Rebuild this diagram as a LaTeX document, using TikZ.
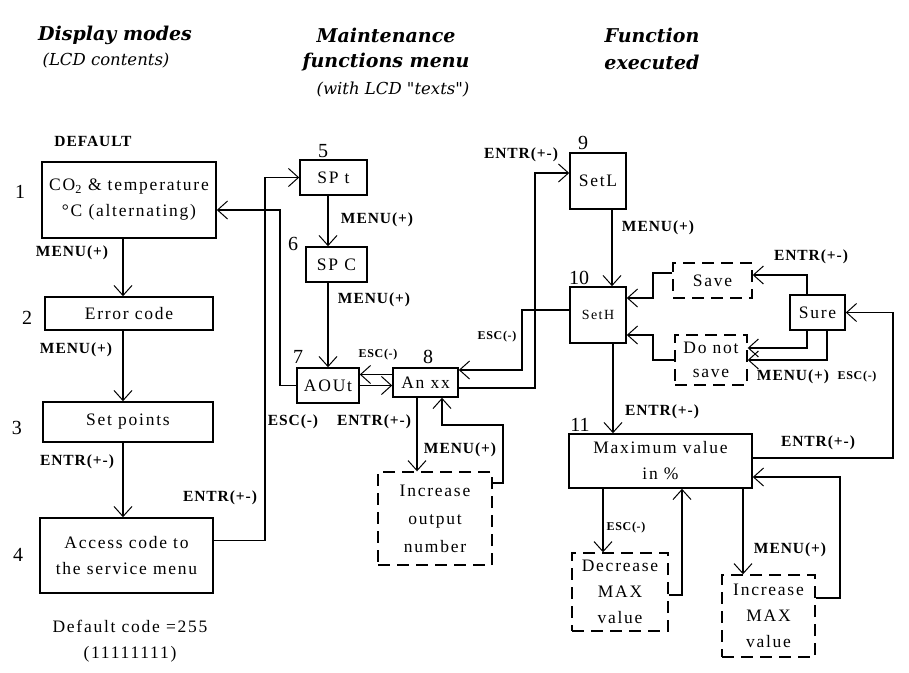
\documentclass[tikz,border=0pt]{standalone}
\usepackage{fontspec}
\setmainfont{Liberation Serif}
\newfontfamily\boxft[LetterSpace=10]{Liberation Serif}
\newfontfamily\lblft[LetterSpace=6]{Liberation Serif}
\newfontfamily\hdft{DejaVu Serif}
\usetikzlibrary{arrows.meta}
\tikzset{
 bx/.style={draw, line width=1.6pt, inner sep=0pt, align=center, font=\boxft\fontsize{17.5}{26}\selectfont},
 dbx/.style={bx, dash pattern=on 12pt off 7pt, line width=1.4pt},
 sz/.style 2 args={minimum width=#1pt, minimum height=#2pt},
 lbl/.style={font=\lblft\bfseries\fontsize{15.5}{18}\selectfont, inner sep=0pt},
 slbl/.style={font=\lblft\bfseries\fontsize{12}{14}\selectfont, inner sep=0pt},
 num/.style={font=\fontsize{20}{22}\selectfont, inner sep=0pt},
 hd/.style={font=\hdft\bfseries\itshape\fontsize{19}{22}\selectfont, inner sep=0pt},
 subhd/.style={font=\hdft\itshape\fontsize{16.5}{19}\selectfont, inner sep=0pt},
 txt/.style={font=\boxft\fontsize{17.5}{26}\selectfont, inner sep=0pt, align=center},
 cn/.style={line width=1.4pt},
 ar/.style={cn, -{Straight Barb[length=10pt,width=18pt,line width=1pt]}},
}
\begin{document}
\begin{tikzpicture}[x=1pt,y=-1pt]
\useasboundingbox[fill=white] (0,0) rectangle (909,672);

% headers
\node[hd] (h1) at (115,35) {Display modes};
\node[subhd] (h1b) at (106,61) {(LCD contents)};
\node[hd] (h2) at (386,35) {Maintenance};
\node[hd] (h2b) at (386,62) {functions menu};
\node[subhd] (h2c) at (393,90) {(with LCD "texts")};
\node[hd] (h3) at (652,35) {Function};
\node[hd] (h3b) at (652,62) {executed};

% boxes
\node[bx, sz={174}{76}] (b1) at (129,200) {CO\textsubscript{2} \& temperature\\°C (alternating)};
\node[bx, sz={168}{33}] (b2) at (129,313.5) {Error code};
\node[bx, sz={170}{40}] (b3) at (128,422) {Set points};
\node[bx, sz={173}{75}] (b4) at (126.5,555.5) {Access code to\\the service menu};
\node[bx, sz={67}{35}] (spt) at (333.5,177.5) {SP t};
\node[bx, sz={61}{35}] (spc) at (336.5,264.5) {SP C};
\node[bx, sz={62}{35}] (aout) at (328,385.5) {AOUt};
\node[bx, sz={65}{29}] (anxx) at (425.5,382.5) {An xx};
\node[dbx, sz={114}{93}, font=\boxft\fontsize{17.5}{28}\selectfont] (incout) at (435,518.5) {Increase\\output\\number};
\node[bx, sz={56}{56}] (setl) at (598,181) {SetL};
\node[bx, sz={56}{56}, font=\boxft\fontsize{14}{16}\selectfont] (seth) at (598,315) {SetH};
\node[dbx, sz={79}{35}] (save) at (712.5,280.5) {Save};
\node[dbx, sz={72}{50}, font=\boxft\fontsize{17.5}{24}\selectfont] (dns) at (711,360) {Do not\\save};
\node[bx, sz={55}{35}] (sure) at (817.5,312.5) {Sure};
\node[bx, sz={183}{54}] (max) at (660.5,461) {Maximum value\\in \%};
\node[dbx, sz={96}{78}] (dec) at (620,592) {Decrease\\MAX\\value};
\node[dbx, sz={93}{82}] (incmax) at (768.5,616) {Increase\\MAX\\value};

% numbers
\node[num] (n1) at (20,192) {1};
\node[num] (n2) at (27,318) {2};
\node[num] (n3) at (17,428) {3};
\node[num] (n4) at (18,555) {4};
\node[num] (n5) at (323,151) {5};
\node[num] (n6) at (293,244) {6};
\node[num] (n7) at (298,357) {7};
\node[num] (n8) at (428,357) {8};
\node[num] (n9) at (583,143) {9};
\node[num] (n10) at (579,278) {10};
\node[num] (n11) at (580,425) {11};

% free texts
\node[lbl] (dflt) at (93,141) {DEFAULT};
\node[txt] (dcode) at (130,641) {Default code =255\\(11111111)};

% coordinates
\coordinate (c1) at (265,177.5);
\coordinate (c2) at (280,210);
\coordinate (c3) at (503,425);
\coordinate (c4) at (535,173);
\coordinate (c5) at (522,310);
\coordinate (c6) at (653,273);
\coordinate (c7) at (653,360);
\coordinate (c8) at (893,458);
\coordinate (c9) at (840,598);
\coordinate (c10) at ([yshift=8pt]anxx.west);

% connectors left column
\draw[ar] ([xshift=-6pt]b1.south) -- ([xshift=-6pt]b1.south |- b2.north);
\draw[ar] ([xshift=-6pt]b2.south) -- ([xshift=-6pt]b2.south |- b3.north);
\draw[ar] ([xshift=-5pt]b3.south) -- ([xshift=-5pt]b3.south |- b4.north);
\draw[ar] ([yshift=15pt]b4.east) -| (c1) -- (spt.west);
\draw[ar] (aout.west) -| (c2) -- ([yshift=-10pt]b1.east);

% middle column
\draw[ar] (spt.south -| aout.north) -- (spc.north -| aout.north);
\draw[ar] (spc.south -| aout.north) -- (aout.north);
\draw[ar] (aout.east) -- (anxx.west |- aout.east);
\draw[ar] (c10) -- (aout.east |- c10);
\draw[ar] ([xshift=-8.5pt]anxx.south) -- ([xshift=-8.5pt]anxx.south |- incout.north);
\draw[ar] ([yshift=35.5pt]incout.east) -| (c3) -| ([xshift=16.5pt]anxx.south);

% to right column
\draw[ar] ([yshift=-5.5pt]anxx.east) -| (c4) -- ([yshift=8pt]setl.west);
\draw[ar] ([yshift=5pt]seth.west) -- (c5) |- ([yshift=12.5pt]anxx.east);

% right column
\draw[ar] ([xshift=14pt]setl.south) -- ([xshift=14pt]seth.north);
\draw[ar] ([yshift=7.5pt]save.west) -- (c6) |- ([yshift=17pt]seth.east);
\draw[ar] (dns.west) -- (c7) |- ([yshift=-20pt]seth.east);
\draw[ar] ([xshift=-10.5pt]sure.north) |- ([yshift=5.5pt]save.east);
\draw[ar] ([xshift=-10.5pt]sure.south) |- ([yshift=12pt]dns.east);
\draw[ar] ([xshift=9.5pt]sure.south) |- (dns.east);
\draw[ar] ([yshift=3pt]max.east) -- (c8) |- (sure.east);
\draw[ar] ([xshift=15pt]seth.south) -- ([xshift=15pt]seth.south |- max.north);
\draw[ar] ([xshift=-57.5pt]max.south) -- ([xshift=-57.5pt]max.south |- dec.north);
\draw[ar] ([yshift=-3pt]dec.east) -| ([xshift=21.5pt]max.south);
\draw[ar] ([xshift=82.5pt]max.south) -- ([xshift=82.5pt]max.south |- incmax.north);
\draw[ar] ([yshift=18pt]incmax.east) -- (c9) |- ([yshift=-16pt]max.east);

% connector labels
\node[lbl] (l1) at (72,253) {MENU(+)};
\node[lbl] (l2) at (76,350) {MENU(+)};
\node[lbl] (l3) at (77,462) {ENTR(+-)};
\node[lbl] (l4) at (220,498) {ENTR(+-)};
\node[lbl] (l5) at (377,220) {MENU(+)};
\node[lbl] (l6) at (374,300) {MENU(+)};
\node[slbl] (l7) at (378,355) {ESC(-)};
\node[lbl] (l8) at (293,422) {ESC(-)};
\node[lbl] (l9) at (374,422) {ENTR(+-)};
\node[lbl] (l10) at (460,450) {MENU(+)};
\node[lbl] (l11) at (521,155) {ENTR(+-)};
\node[slbl] (l12) at (497,337) {ESC(-)};
\node[lbl] (l13) at (658,228) {MENU(+)};
\node[lbl] (l14) at (811,257) {ENTR(+-)};
\node[lbl] (l15) at (793,377) {MENU(+)};
\node[slbl] (l16) at (857,377) {ESC(-)};
\node[lbl] (l17) at (662,412) {ENTR(+-)};
\node[lbl] (l18) at (818,443) {ENTR(+-)};
\node[slbl] (l19) at (626,528) {ESC(-)};
\node[lbl] (l20) at (790,550) {MENU(+)};
\end{tikzpicture}
\end{document}
